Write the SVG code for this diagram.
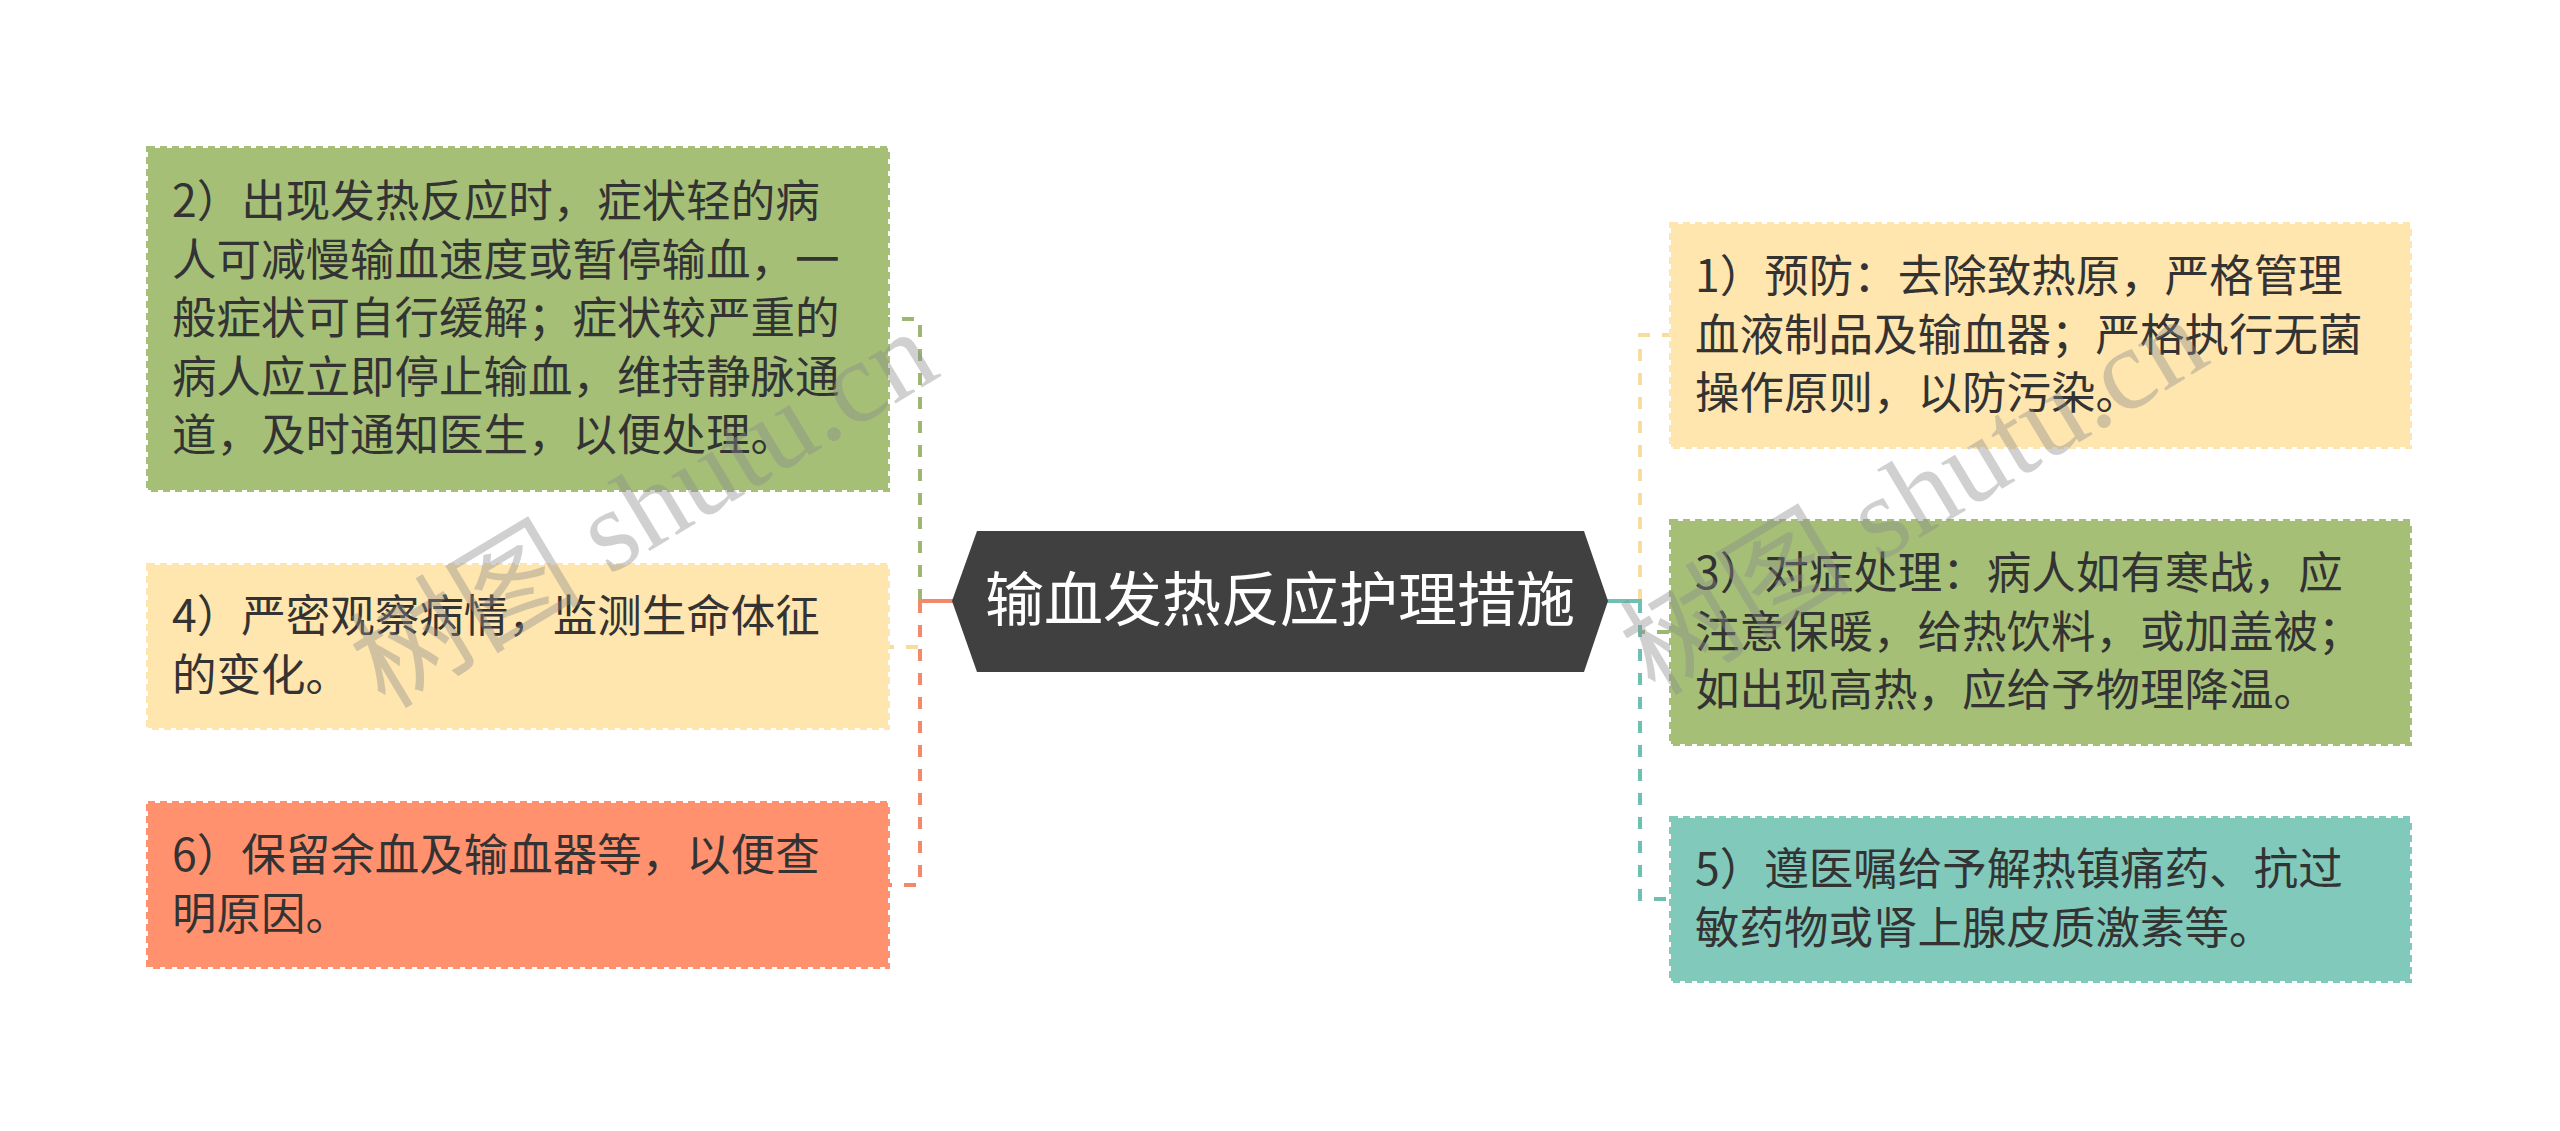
<svg xmlns="http://www.w3.org/2000/svg" width="2560" height="1131" viewBox="0 0 2560 1131">
<style>
.box{stroke-width:4;stroke-dasharray:7 5}
.t{font-family:"Noto Sans CJK SC","Liberation Sans",sans-serif;font-size:44.5px;fill:#333333}
.title{font-family:"Noto Sans CJK SC","Liberation Sans",sans-serif;font-size:59px;fill:#ffffff}
.c{fill:none;stroke-width:4;stroke-dasharray:12 12}
.wm{font-family:"Liberation Serif","Noto Sans CJK SC",serif;font-size:116px;fill:#8c8c8c;opacity:0.4}
</style>
<rect width="2560" height="1131" fill="#ffffff"/>
<g id="connectors">
  <path class="c" d="M920 601 V647 H888" stroke="#F8DE9E"/>
  <path class="c" d="M920 601 V319 H888" stroke="#9DB772"/>
  <path class="c" d="M920 601 V885 H888" stroke="#F28A69"/>
  <path d="M953 601 H918" stroke="#F28A69" stroke-width="4" fill="none"/>
  <path class="c" d="M1640 601 V335 H1671" stroke="#F8DE9E"/>
  <path class="c" d="M1640 601 V632 H1671" stroke="#9DB772"/>
  <path class="c" d="M1640 601 V899 H1671" stroke="#6EC0B2"/>
  <path d="M1606 601 H1642" stroke="#6EC0B2" stroke-width="4" fill="none"/>
</g>
<g id="root">
  <polygon points="952,601 977,531 1584,531 1608,601 1584,672 977,672" fill="#404040"/>
  <text class="title" x="1280" y="621" text-anchor="middle">输血发热反应护理措施</text>
</g>
<g id="node2">
  <rect class="box" x="148" y="148" width="740" height="342" fill="#A5BF77" stroke="#A5BF77"/>
  <text class="t"><tspan x="172" y="217">2）出现发热反应时，症状轻的病</tspan><tspan x="172" y="275.5">人可减慢输血速度或暂停输血，一</tspan><tspan x="172" y="334">般症状可自行缓解；症状较严重的</tspan><tspan x="172" y="392.5">病人应立即停止输血，维持静脉通</tspan><tspan x="172" y="451">道，及时通知医生，以便处理。</tspan></text>
</g>
<g id="node4">
  <rect class="box" x="148" y="565" width="740" height="163" fill="#FFE5AE" stroke="#FFE5AE"/>
  <text class="t"><tspan x="172" y="632">4）严密观察病情，监测生命体征</tspan><tspan x="172" y="690.5">的变化。</tspan></text>
</g>
<g id="node6">
  <rect class="box" x="148" y="803" width="740" height="164" fill="#FF916F" stroke="#FF916F"/>
  <text class="t"><tspan x="172" y="871">6）保留余血及输血器等，以便查</tspan><tspan x="172" y="929.5">明原因。</tspan></text>
</g>
<g id="node1">
  <rect class="box" x="1671" y="224" width="739" height="223" fill="#FFE5AE" stroke="#FFE5AE"/>
  <text class="t"><tspan x="1695" y="292">1）预防：去除致热原，严格管理</tspan><tspan x="1695" y="350.5">血液制品及输血器；严格执行无菌</tspan><tspan x="1695" y="409">操作原则，以防污染。</tspan></text>
</g>
<g id="node3">
  <rect class="box" x="1671" y="521" width="739" height="223" fill="#A5BF77" stroke="#A5BF77"/>
  <text class="t"><tspan x="1695" y="589">3）对症处理：病人如有寒战，应</tspan><tspan x="1695" y="647.5">注意保暖，给热饮料，或加盖被；</tspan><tspan x="1695" y="706">如出现高热，应给予物理降温。</tspan></text>
</g>
<g id="node5">
  <rect class="box" x="1671" y="818" width="739" height="163" fill="#80C9BB" stroke="#80C9BB"/>
  <text class="t"><tspan x="1695" y="885">5）遵医嘱给予解热镇痛药、抗过</tspan><tspan x="1695" y="943.5">敏药物或肾上腺皮质激素等。</tspan></text>
</g>
<g id="watermark">
  <text class="wm" transform="translate(385,710) rotate(-31)">树图 shutu.cn</text>
  <text class="wm" transform="translate(1655,697) rotate(-31)">树图 shutu.cn</text>
</g>
</svg>
